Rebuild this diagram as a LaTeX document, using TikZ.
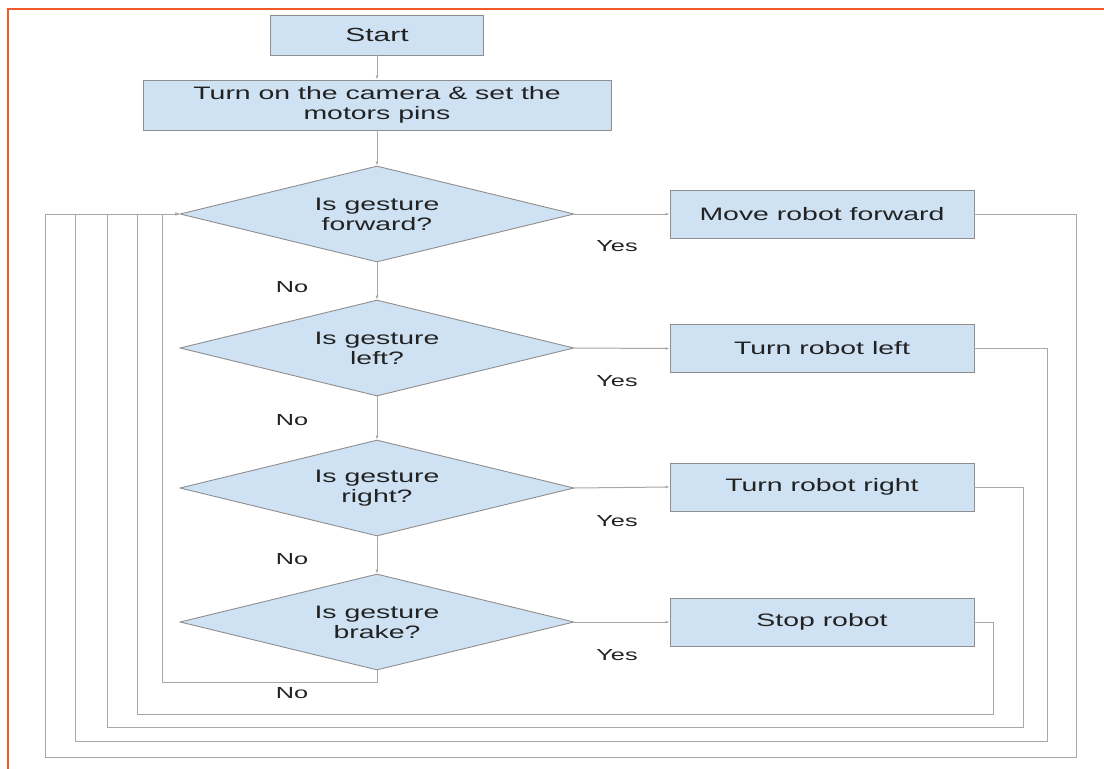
\documentclass[tikz,border=0pt]{standalone}
\usepackage{fontspec}
\setmainfont[FakeStretch=1.58]{Liberation Sans}
\usetikzlibrary{shapes.geometric,arrows.meta}
\definecolor{boxfill}{HTML}{CFE2F3}
\definecolor{boxline}{HTML}{8E8E8E}
\definecolor{connline}{HTML}{A8A8A8}
\definecolor{txt}{HTML}{222222}
\definecolor{frame}{HTML}{F05A28}
\tikzset{
  base/.style={fill=boxfill, draw=boxline, line width=0.9pt, text=txt, inner sep=0pt, align=center,
    font=\fontsize{18}{20}\selectfont},
  procbox/.style={base, rectangle, minimum width=304pt, minimum height=48pt},
  decision/.style={base, diamond, aspect=4.1, minimum width=394pt, minimum height=96pt},
  conn/.style={draw=connline, line width=1pt, -{Latex[length=4pt,width=3pt]}},
  lbl/.style={text=txt, font=\fontsize{16}{18}\selectfont, inner sep=0pt}
}
\begin{document}
\begin{tikzpicture}[x=1pt,y=-1pt]
\useasboundingbox (0,0) rectangle (1104,769);
\draw[frame, line width=2.5pt] (8,769) -- (8,9) -- (1104,9);

\node[base, rectangle, minimum width=213pt, minimum height=40pt, font=\fontsize{19}{21}\selectfont] (start) at (377,35) {Start};
\node[base, rectangle, minimum width=468pt, minimum height=50pt] (cam) at (377,105) {Turn on the camera \& set the\\motors pins};

\node[decision] (d1) at (377,214) {Is gesture\\forward?};
\node[decision] (d2) at (377,348) {Is gesture\\left?};
\node[decision] (d3) at (377,488) {Is gesture\\right?};
\node[decision] (d4) at (377,622) {Is gesture\\brake?};

\node[procbox] (f1) at (822,214) {Move robot forward};
\node[procbox] (f2) at (822,348.5) {Turn robot left};
\node[procbox] (f3) at (822,487) {Turn robot right};
\node[procbox] (f4) at (822,622) {Stop robot};

\node[lbl] (y1) at (617,246) {Yes};
\node[lbl] (y2) at (617,381) {Yes};
\node[lbl] (y3) at (617,521) {Yes};
\node[lbl] (y4) at (617,655) {Yes};
\node[lbl] (n1) at (292,287) {No};
\node[lbl] (n2) at (292,420) {No};
\node[lbl] (n3) at (292,559) {No};
\node[lbl] (n4) at (292,693) {No};

\draw[conn] (start) -- (cam);
\draw[conn] (cam) -- (d1);
\draw[conn] (d1) -- (d2);
\draw[conn] (d2) -- (d3);
\draw[conn] (d3) -- (d4);
\draw[conn] (d1.east) -- (f1.west);
\draw[conn] (d2.east) -- (f2.west);
\draw[conn] (d3.east) -- (f3.west);
\draw[conn] (d4.east) -- (f4.west);

\draw[conn] (f1.east) -| (1076,757) -- (45,757) |- (d1.west);
\draw[conn] (f2.east) -| (1047,741) -- (75,741) |- (d1.west);
\draw[conn] (f3.east) -| (1023,727) -- (107,727) |- (d1.west);
\draw[conn] (f4.east) -| (993,714) -- (137,714) |- (d1.west);
\draw[conn] (d4.south) |- (162,682) |- (d1.west);
\end{tikzpicture}
\end{document}
